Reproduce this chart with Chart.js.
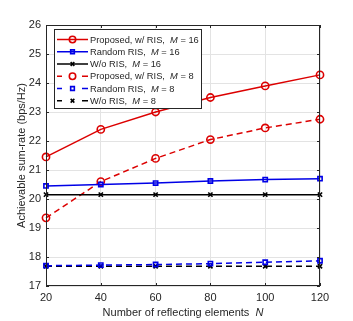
<!DOCTYPE html>
<html>
<head>
<meta charset="utf-8">
<script src="https://cdn.jsdelivr.net/npm/chart.js@4.4.0/dist/chart.umd.min.js"></script>
<style>
  html, body { margin: 0; padding: 0; background: #fff; }
</style>
</head>
<body>
<canvas id="myChart" width="353" height="321"></canvas>
<script>
// data
const elements = [20, 40, 60, 80, 100, 120];
const xTicks = [20, 40, 60, 80, 100, 120];
const yTicks = [17, 18, 19, 20, 21, 22, 23, 24, 25, 26];

const proposedM16 = [21.45, 22.4, 23.0, 23.5, 23.9, 24.28];
const randomM16   = [20.45, 20.5, 20.55, 20.62, 20.67, 20.7];
const woM16       = [20.15, 20.15, 20.15, 20.15, 20.15, 20.15];
const proposedM8  = [19.35, 20.6, 21.4, 22.05, 22.45, 22.75];
const randomM8    = [17.7, 17.72, 17.74, 17.77, 17.82, 17.87];
const woM8        = [17.68, 17.68, 17.68, 17.68, 17.68, 17.68];

const RED = '#dc0000';
const BLUE = '#0000e6';
const BLACK = '#000000';
const AXIS = '#262626';
const FONT = '"Liberation Sans", Arial, sans-serif';

function radiusFor(style){
    return style === 'circle' ? 3.6 : (style === 'rect' ? 3 : 3);
}

function series(data, color, style, dashed){
    return {
        data: elements.map((x, i) => ({x: x, y: data[i]})),
        borderColor: color,
        backgroundColor: 'rgba(0,0,0,0)',
        borderWidth: 1.5,
        borderDash: dashed ? [6, 4] : [],
        pointStyle: style,
        pointRadius: radiusFor(style),
        pointBorderWidth: 1.6,
        pointBorderColor: color,
        pointBackgroundColor: 'rgba(0,0,0,0)',
        tension: 0,
        clip: false
    };
}

const legendRows = [
    {color: RED,   style: 'circle',   dashed: false, parts: ['Proposed, w/ RIS,  ', 'M', ' = 16']},
    {color: BLUE,  style: 'rect',     dashed: false, parts: ['Random RIS,  ', 'M', ' = 16']},
    {color: BLACK, style: 'crossRot', dashed: false, parts: ['W/o RIS,  ', 'M', ' = 16']},
    {color: RED,   style: 'circle',   dashed: true,  parts: ['Proposed, w/ RIS,  ', 'M', ' = 8']},
    {color: BLUE,  style: 'rect',     dashed: true,  parts: ['Random RIS,  ', 'M', ' = 8']},
    {color: BLACK, style: 'crossRot', dashed: true,  parts: ['W/o RIS,  ', 'M', ' = 8']},
];

function drawParts(ctx, parts, x, y, size){
    parts.forEach((p, i) => {
        ctx.font = (i === 1 ? 'italic ' : '') + size + 'px ' + FONT;
        ctx.fillText(p, x, y);
        x += ctx.measureText(p).width;
    });
    return x;
}

function partsWidth(ctx, parts, size){
    let w = 0;
    parts.forEach((p, i) => {
        ctx.font = (i === 1 ? 'italic ' : '') + size + 'px ' + FONT;
        w += ctx.measureText(p).width;
    });
    return w;
}

const decorPlugin = {
    id: 'decor',
    afterDraw(chart){
        const ctx = chart.ctx;
        const a = chart.chartArea;
        const xs = chart.scales.x, ys = chart.scales.y;
        ctx.save();
        // box
        ctx.strokeStyle = AXIS;
        ctx.lineWidth = 1;
        ctx.strokeRect(a.left + 0.5, a.top + 0.5, a.right - a.left - 1, a.bottom - a.top - 1);
        // inner ticks
        ctx.beginPath();
        xTicks.forEach(v => {
            const px = Math.round(xs.getPixelForValue(v)) + 0.5;
            ctx.moveTo(px, a.bottom); ctx.lineTo(px, a.bottom - 3);
            ctx.moveTo(px, a.top); ctx.lineTo(px, a.top + 3);
        });
        yTicks.forEach(v => {
            const py = Math.round(ys.getPixelForValue(v)) + 0.5;
            ctx.moveTo(a.left, py); ctx.lineTo(a.left + 3, py);
            ctx.moveTo(a.right, py); ctx.lineTo(a.right - 3, py);
        });
        ctx.stroke();

        // axis titles
        ctx.fillStyle = AXIS;
        ctx.textBaseline = 'alphabetic';
        const xParts = ['Number of reflecting elements  ', 'N'];
        const xw = partsWidth(ctx, ['Number of reflecting elements  ', 'N'], 11);
        const cx = (a.left + a.right) / 2;
        drawParts(ctx, xParts, cx - xw / 2, 316, 11);

        ctx.save();
        ctx.translate(25, (a.top + a.bottom) / 2);
        ctx.rotate(-Math.PI / 2);
        ctx.textAlign = 'center';
        ctx.font = '11px ' + FONT;
        ctx.fillText('Achievable sum-rate (bps/Hz)', 0, 0);
        ctx.restore();

        // legend
        const lx = 54.5, ly = 29.5, lw = 147, lh = 79;
        ctx.fillStyle = '#fff';
        ctx.fillRect(lx, ly, lw, lh);
        ctx.strokeStyle = AXIS;
        ctx.lineWidth = 1;
        ctx.strokeRect(lx, ly, lw, lh);
        legendRows.forEach((r, i) => {
            const y = 39.5 + i * 12.25;
            ctx.strokeStyle = r.color;
            ctx.lineWidth = 1.5;
            ctx.beginPath();
            if (r.dashed) {
                ctx.moveTo(57, y); ctx.lineTo(62, y);
                ctx.moveTo(82, y); ctx.lineTo(88, y);
            } else {
                ctx.moveTo(57, y); ctx.lineTo(88, y);
            }
            ctx.stroke();
            ctx.fillStyle = 'rgba(0,0,0,0)';
            ctx.lineWidth = 1.6;
            Chart.helpers.drawPoint(ctx, {pointStyle: r.style, radius: radiusFor(r.style) - 0.4, borderWidth: 1.6}, 72.5, y);
            ctx.fillStyle = AXIS;
            ctx.textBaseline = 'middle';
            drawParts(ctx, r.parts, 90, y + 0.5, 9.3);
        });
        ctx.restore();
    }
};

const ctx = document.getElementById('myChart').getContext('2d');
new Chart(ctx, {
    type: 'line',
    data: {
        datasets: [
            series(proposedM16, RED, 'circle', false),
            series(randomM16, BLUE, 'rect', false),
            series(woM16, BLACK, 'crossRot', false),
            series(proposedM8, RED, 'circle', true),
            series(randomM8, BLUE, 'rect', true),
            series(woM8, BLACK, 'crossRot', true),
        ]
    },
    options: {
        responsive: false,
        animation: false,
        layout: { padding: { left: 0, right: 33, top: 25, bottom: 0 } },
        plugins: { legend: { display: false }, tooltip: { enabled: false } },
        scales: {
            x: {
                type: 'linear',
                min: 20, max: 120,
                afterBuildTicks: s => { s.ticks = xTicks.map(v => ({value: v})); },
                afterFit: s => { s.height = 35; },
                grid: { color: '#e3e3e3', tickLength: 0, drawTicks: false },
                border: { display: false },
                ticks: { color: AXIS, font: { family: FONT, size: 11 }, padding: 5, maxRotation: 0 }
            },
            y: {
                min: 17, max: 26,
                afterBuildTicks: s => { s.ticks = yTicks.map(v => ({value: v})); },
                afterFit: s => { s.width = 46; },
                grid: { color: '#e3e3e3', tickLength: 0, drawTicks: false },
                border: { display: false },
                ticks: { color: AXIS, font: { family: FONT, size: 11 }, padding: 5 }
            }
        }
    },
    plugins: [decorPlugin]
});
</script>
</body>
</html>
